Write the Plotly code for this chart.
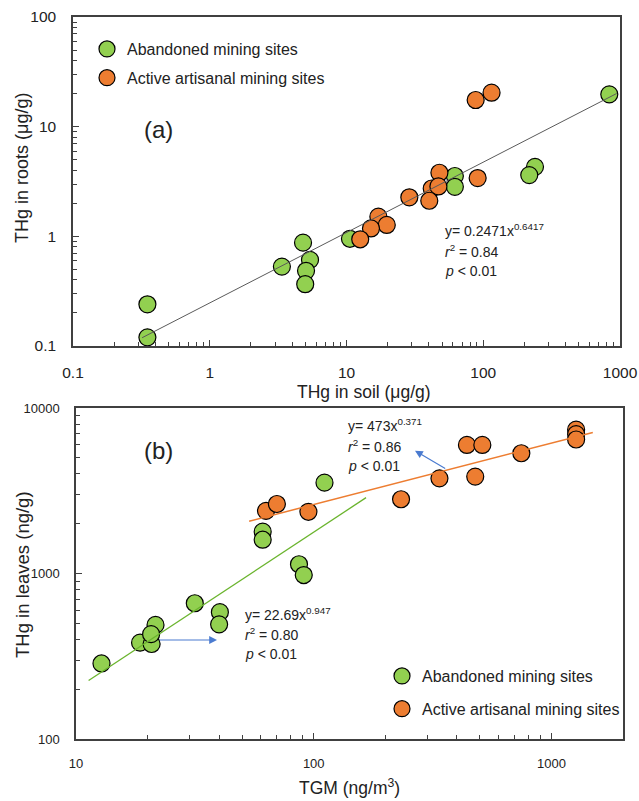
import numpy as np
import plotly.graph_objects as go

# ---------------- data: panel (a) ----------------
soil_aband = [0.35, 0.35, 3.37, 4.81, 5.41, 5.06, 4.99, 10.6, 62, 62, 239, 217, 835]
roots_aband = [0.24, 0.12, 0.53, 0.875, 0.61, 0.485, 0.366, 0.95, 3.55, 2.83, 4.3, 3.62, 19.7]
soil_active = [88, 115, 47.8, 91, 42, 47, 40.3, 28.8, 17.1, 19.7, 15.1, 12.6]
roots_active = [17.5, 20.4, 3.8, 3.4, 2.73, 2.85, 2.11, 2.27, 1.51, 1.27, 1.18, 0.94]
fit_a = dict(coef=0.2471, exp=0.6417, xmin=0.32, xmax=946)

# ---------------- data: panel (b) ----------------
tgm_aband = [12.8, 18.6, 20.8, 21.6, 20.7, 31.6, 40.3, 40, 86.7, 90.8, 61, 61, 111]
leaf_aband = [286, 382, 375, 489, 430, 661, 584, 493, 1137, 979, 1790, 1600, 3540]
tgm_active = [63, 70, 95, 233, 338, 478, 441, 512, 747, 1270, 1270, 1270]
leaf_active = [2390, 2630, 2360, 2810, 3760, 3850, 5980, 5980, 5330, 7400, 6950, 6450]
fit_b_green = dict(coef=22.69, exp=0.947, xmin=11.3, xmax=166)
fit_b_orange = dict(coef=473, exp=0.371, xmin=53.5, xmax=1493)

# tick labels
xa_ticks = [0.1, 1, 10, 100, 1000]
xa_text = ["0.1", "1", "10", "100", "1000"]
ya_ticks = [0.1, 1, 10, 100]
ya_text = ["0.1", "1", "10", "100"]
xb_ticks = [10, 100, 1000]
xb_text = ["10", "100", "1000"]
yb_ticks = [100, 1000, 10000]
yb_text = ["100", "1000", "10000"]

NAME_A = "Abandoned mining sites"
NAME_B = "Active artisanal mining sites"

GREEN = "#92D050"
ORANGE = "#ED7D31"
GREEN_LINE = "#6AB42D"
AXC = "#404040"
TXT = "#222222"
FONT = "Liberation Sans, Arial, sans-serif"

W, H = 639, 801


def px(xp):
    return xp / W


def py(yp):
    return 1 - yp / H


def minor_vals(d0, d1):
    return [k * 10.0 ** d for d in range(d0, d1) for k in range(2, 10)]


def fit_line(f):
    xs = np.array([f["xmin"], f["xmax"]])
    return xs, f["coef"] * xs ** f["exp"]


fig = go.Figure()

mk = lambda c: dict(size=17, color=c, line=dict(color="black", width=1.2))

# panel (a)
fig.add_trace(go.Scatter(x=soil_aband, y=roots_aband, mode="markers", marker=mk(GREEN),
                         name=NAME_A, legend="legend", legendgroup="a1", xaxis="x", yaxis="y"))
fig.add_trace(go.Scatter(x=soil_active, y=roots_active, mode="markers", marker=mk(ORANGE),
                         name=NAME_B, legend="legend", legendgroup="a2", xaxis="x", yaxis="y"))
xs, ys = fit_line(fit_a)
fig.add_trace(go.Scatter(x=xs, y=ys, mode="lines", line=dict(color="#5a5a5a", width=1),
                         showlegend=False, xaxis="x", yaxis="y"))

# panel (b)
fig.add_trace(go.Scatter(x=tgm_aband, y=leaf_aband, mode="markers", marker=mk(GREEN),
                         name=NAME_A, legend="legend2", legendgroup="b1", xaxis="x2", yaxis="y2"))
fig.add_trace(go.Scatter(x=tgm_active, y=leaf_active, mode="markers", marker=mk(ORANGE),
                         name=NAME_B, legend="legend2", legendgroup="b2", xaxis="x2", yaxis="y2"))
xs, ys = fit_line(fit_b_green)
fig.add_trace(go.Scatter(x=xs, y=ys, mode="lines", line=dict(color=GREEN_LINE, width=1.3),
                         showlegend=False, xaxis="x2", yaxis="y2"))
xs, ys = fit_line(fit_b_orange)
fig.add_trace(go.Scatter(x=xs, y=ys, mode="lines", line=dict(color=ORANGE, width=1.5),
                         showlegend=False, xaxis="x2", yaxis="y2"))


def axis(rng, dom, anchor, tv, tt, d0, d1, fsize):
    return dict(type="log", range=rng, domain=dom, anchor=anchor, automargin=False,
                showline=True, mirror=True, linecolor=AXC, linewidth=1.5,
                ticks="inside", ticklen=6, tickwidth=1, tickcolor=AXC,
                tickvals=tv, ticktext=tt, tickfont=dict(family=FONT, size=fsize, color=TXT),
                ticklabelstandoff=12,
                showgrid=False, zeroline=False,
                minor=dict(tickvals=minor_vals(d0, d1), ticks="inside", ticklen=4,
                           tickwidth=1, tickcolor=AXC, showgrid=False))


fig.update_layout(
    template="none",
    width=W, height=H, margin=dict(l=0, r=0, t=0, b=0, autoexpand=False),
    paper_bgcolor="white", plot_bgcolor="white",
    xaxis=axis([-1, 3], [px(73), px(620)], "y", xa_ticks, xa_text, -1, 3, 15.5),
    yaxis=axis([-1, 2], [py(346), py(17)], "x", ya_ticks, ya_text, -1, 2, 15.5),
    xaxis2=axis([1, np.log10(2000)], [px(76), px(623)], "y2", xb_ticks, xb_text, 1, 4, 13),
    yaxis2=axis([2, 4], [py(739), py(408)], "x2", yb_ticks, yb_text, 2, 4, 13),
    legend=dict(x=px(87), y=py(32), xanchor="left", yanchor="top",
                font=dict(family=FONT, size=16, color=TXT),
                bgcolor="rgba(0,0,0,0)", tracegroupgap=5),
    legend2=dict(x=px(382), y=py(659), xanchor="left", yanchor="top",
                 font=dict(family=FONT, size=16, color=TXT),
                 bgcolor="rgba(0,0,0,0)", tracegroupgap=9),
)

ann = []


def txt(text, x, y, size, angle=0, xanchor="center"):
    ann.append(dict(text=text, x=px(x), y=py(y), xref="paper", yref="paper",
                    showarrow=False, font=dict(family=FONT, size=size, color=TXT),
                    textangle=angle, xanchor=xanchor, yanchor="middle", align="left"))


# axis titles
txt("THg in roots (μg/g)", 22, 168, 18, angle=-90)
txt("THg in soil (μg/g)", 364, 392, 17.5)
txt("THg in leaves (ng/g)", 22, 575, 18.5, angle=-90)
txt("TGM (ng/m<sup>3</sup>)", 349, 787, 17.5)
# panel labels
txt("(a)", 158, 130, 24)
txt("(b)", 158, 450, 24)

# equations (one annotation per line)
eq_lines = [
    (443, [230, 251, 271], 14, ["y= 0.2471x<sup>0.6417</sup>", "<i>r</i><sup>2</sup> = 0.84", "<i>p</i> < 0.01"]),
    (346, [425, 446, 466], 14, ["y= 473x<sup>0.371</sup>", "<i>r</i><sup>2</sup> = 0.86", "<i>p</i> < 0.01"]),
    (243, [614, 634, 654], 14, ["y= 22.69x<sup>0.947</sup>", "<i>r</i><sup>2</sup> = 0.80", "<i>p</i> < 0.01"]),
]
for x0, ys_, size, lines in eq_lines:
    for yl, line in zip(ys_, lines):
        txt(line, x0, yl, size, xanchor="left")

# arrows
for (hx, hy, tx, ty) in [(415, 450.7, 446.7, 469.3), (217, 640, 158, 640)]:
    ann.append(dict(text="", x=px(hx), y=py(hy), xref="paper", yref="paper",
                    showarrow=True, ax=tx - hx, ay=ty - hy, arrowhead=2, arrowsize=1.3,
                    arrowwidth=1.2, arrowcolor="#4A7BD0", standoff=0))

fig.update_layout(annotations=ann)
fig.write_html("out.html", config={"displayModeBar": False},
               post_script="document.body.style.margin='0';document.body.style.padding='0';")
